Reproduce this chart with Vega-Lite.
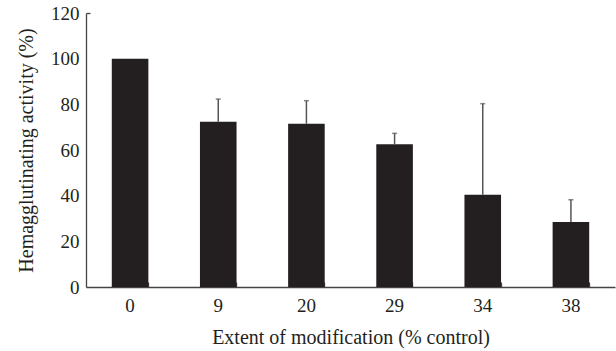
{
  "$schema": "https://vega.github.io/schema/vega-lite/v6.json",
  "autosize": "none",
  "width": 529,
  "height": 274,
  "padding": {"left": 86, "top": 13, "right": 1, "bottom": 64},
  "background": "white",
  "config": {
    "view": {"stroke": null},
    "font": "Liberation Serif, Times New Roman, serif",
    "axis": {
      "labelFont": "Liberation Serif, Times New Roman, serif",
      "titleFont": "Liberation Serif, Times New Roman, serif",
      "labelFontSize": 19,
      "titleFontSize": 20,
      "titleFontWeight": "normal",
      "labelColor": "#231f20",
      "titleColor": "#231f20",
      "domainColor": "#444",
      "tickColor": "#444",
      "domainWidth": 1.3,
      "tickWidth": 1.3,
      "grid": false
    }
  },
  "data": {
    "values": [
      {"ext": "0", "value": 100, "upper": null},
      {"ext": "9", "value": 72.4, "upper": 82.3},
      {"ext": "20", "value": 71.5, "upper": 81.6},
      {"ext": "29", "value": 62.5, "upper": 67.3},
      {"ext": "34", "value": 40.4, "upper": 80.3},
      {"ext": "38", "value": 28.5, "upper": 38.2}
    ]
  },
  "layer": [
    {
      "mark": {"type": "bar", "color": "#231f20"},
      "encoding": {
        "x": {"field": "ext", "type": "nominal", "sort": null,
          "scale": {"paddingInner": 0.585, "paddingOuter": 0.2925},
          "axis": {"orient": "bottom", "title": "Extent of modification (% control)", "labelAngle": 0, "ticks": false, "labelPadding": 9, "titlePadding": 12}},
        "y": {"field": "value", "type": "quantitative",
          "scale": {"domain": [0, 120], "nice": false},
          "axis": {"orient": "left", "title": "Hemagglutinating activity (%)", "values": [0, 20, 40, 60, 80, 100, 120], "ticks": false, "labelPadding": 7, "titlePadding": 14}}
      }
    },
    {
      "transform": [{"filter": "datum.upper != null"}],
      "mark": {"type": "rule", "color": "#555", "strokeWidth": 1.5},
      "encoding": {
        "x": {"field": "ext", "type": "nominal", "sort": null,
          "axis": {"orient": "bottom", "title": null, "labels": false, "domain": false, "bandPosition": 1, "tickSize": -5, "ticks": true}},
        "y": {"field": "value", "type": "quantitative",
          "axis": {"orient": "left", "title": null, "labels": false, "domain": false, "values": [120], "tickSize": -4, "ticks": true}},
        "y2": {"field": "upper"}
      }
    },
    {
      "transform": [{"filter": "datum.upper != null"}],
      "mark": {"type": "tick", "color": "#555", "thickness": 1.5, "size": 5},
      "encoding": {
        "x": {"field": "ext", "type": "nominal", "sort": null, "axis": null},
        "y": {"field": "upper", "type": "quantitative", "axis": null}
      }
    }
  ],
  "resolve": {"axis": {"x": "independent", "y": "independent"}}
}
